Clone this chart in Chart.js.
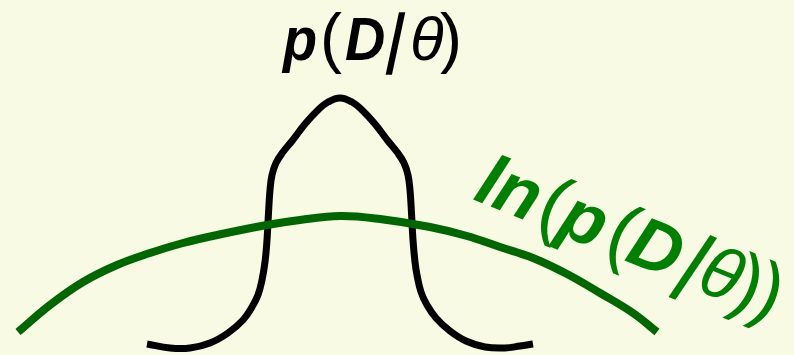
<!DOCTYPE html>
<html>
<head>
<meta charset="utf-8">
<script src="https://cdn.jsdelivr.net/npm/chart.js@4.4.0/dist/chart.umd.min.js"></script>
<style>
  html, body { margin: 0; padding: 0; background: #f8fae4; }
  #wrap { width: 794px; height: 355px; }
</style>
</head>
<body>
<div id="wrap"><canvas id="likelihood" width="794" height="355"></canvas></div>
<script>
// theta values and curve heights
var pTheta = [-1.93, -1.70, -1.50, -1.30, -1.12, -0.97, -0.88, -0.82, -0.78, -0.75, -0.73, -0.715, -0.70, -0.68, -0.64, -0.57, -0.48, -0.35, -0.22, -0.12, 0,
              0.12, 0.22, 0.35, 0.48, 0.57, 0.64, 0.68, 0.70, 0.715, 0.73, 0.75, 0.77, 0.81, 0.87, 0.96, 1.10, 1.26, 1.45, 1.65, 1.80, 1.93];
var pValues = [0.11, 0.07, 0.07, 0.12, 0.22, 0.35, 0.48, 0.60, 0.75, 0.93, 1.15, 1.42, 1.65, 1.80, 1.92, 2.03, 2.14, 2.31, 2.45, 2.53, 2.57,
               2.53, 2.45, 2.31, 2.14, 2.03, 1.92, 1.80, 1.65, 1.42, 1.15, 0.93, 0.80, 0.63, 0.50, 0.37, 0.24, 0.14, 0.08, 0.07, 0.09, 0.11];

var lnTheta = [-3.22, -2.90, -2.57, -2.23, -1.90, -1.57, -1.23, -0.73, -0.40, 0, 0.40, 0.90, 1.27, 1.60, 1.93, 2.27, 2.60, 2.93, 3.17];
var lnValues = [0.23, 0.50, 0.73, 0.90, 1.02, 1.12, 1.20, 1.30, 1.35, 1.39, 1.36, 1.28, 1.19, 1.08, 0.97, 0.81, 0.62, 0.42, 0.23];

var thetaRange = [-3.40, 4.54];
var valueRange = [0, 3.55];

var FONT = '"Liberation Sans", Arial, sans-serif';
var SLANT = Math.tan(12 * Math.PI / 180);

function toPoints(xs, ys) {
    return xs.map(function (x, i) { return { x: x, y: ys[i] }; });
}

// each glyph gets its own weight, offset along the baseline and size
function drawPieces(ctx, pieces, size) {
    pieces.forEach(function (pc) {
        ctx.save();
        ctx.translate(pc.dx, 0);
        if (pc.skew) ctx.transform(1, 0, -SLANT, 1, 0, 0);
        ctx.scale(pc.sx || 1, 1);
        ctx.font = pc.style + ' ' + Math.round(size * (pc.scale || 1)) + 'px ' + FONT;
        ctx.fillText(pc.text, 0, 0);
        ctx.restore();
    });
}

var formula = [
    { text: 'p', style: 'italic bold', dx: 0, sx: 0.9 },
    { text: '(', style: 'normal', dx: 37, scale: 1.07 },
    { text: 'D', style: 'italic bold', dx: 62, sx: 0.9 },
    { text: '|', style: 'bold', dx: 102, scale: 1.07, sx: 0.75, skew: true },
    { text: 'θ', style: 'italic', dx: 127 },
    { text: ')', style: 'normal', dx: 157, scale: 1.07 }
];
var lnFormula = [
    { text: 'l', style: 'italic bold', dx: 0 },
    { text: 'n', style: 'italic bold', dx: 19 },
    { text: '(', style: 'normal', dx: 66, scale: 1.07 },
    { text: 'p', style: 'italic bold', dx: 90 },
    { text: '(', style: 'normal', dx: 140, scale: 1.07 },
    { text: 'D', style: 'italic bold', dx: 163 },
    { text: '|', style: 'bold', dx: 218, scale: 1.07, sx: 0.75, skew: true },
    { text: 'θ', style: 'italic', dx: 240 },
    { text: ')', style: 'normal', dx: 276, scale: 1.07 },
    { text: ')', style: 'normal', dx: 298, scale: 1.07 }
];

var labelPlugin = {
    id: 'curveLabels',
    afterDatasetsDraw: function (chart) {
        var ctx = chart.ctx;
        var xs = chart.scales.x, ys = chart.scales.y;
        ctx.save();
        ctx.textBaseline = 'alphabetic';
        ctx.fillStyle = '#000000';
        ctx.translate(xs.getPixelForValue(-0.57), ys.getPixelForValue(2.95));
        drawPieces(ctx, formula, 62);
        ctx.restore();

        ctx.save();
        ctx.textBaseline = 'alphabetic';
        ctx.fillStyle = '#008000';
        ctx.translate(xs.getPixelForValue(1.32), ys.getPixelForValue(1.56));
        ctx.rotate(22 * Math.PI / 180);
        drawPieces(ctx, lnFormula, 72);
        ctx.restore();
    }
};

function build() {
    new Chart(document.getElementById('likelihood').getContext('2d'), {
        type: 'scatter',
        data: {
            datasets: [{
                label: 'ln(p(D|θ))',
                data: toPoints(lnTheta, lnValues),
                showLine: true,
                borderColor: '#006600',
                borderWidth: 8,
                borderCapStyle: 'butt',
                pointRadius: 0,
                tension: 0.4,
                clip: false
            }, {
                label: 'p(D|θ)',
                data: toPoints(pTheta, pValues),
                showLine: true,
                borderColor: '#000000',
                borderWidth: 7,
                borderCapStyle: 'butt',
                borderJoinStyle: 'round',
                pointRadius: 0,
                tension: 0.4,
                clip: false
            }]
        },
        options: {
            responsive: false,
            animation: false,
            devicePixelRatio: 1,
            layout: { padding: 0 },
            plugins: {
                legend: { display: false },
                tooltip: { enabled: false }
            },
            scales: {
                x: { type: 'linear', display: false, min: thetaRange[0], max: thetaRange[1] },
                y: { type: 'linear', display: false, min: valueRange[0], max: valueRange[1] }
            }
        },
        plugins: [labelPlugin]
    });
}

Promise.all([
    document.fonts.load('italic bold 60px ' + FONT, 'pDln'),
    document.fonts.load('italic 60px ' + FONT, 'θ'),
    document.fonts.load('bold 60px ' + FONT, '|'),
    document.fonts.load('60px ' + FONT, '()')
]).then(build, build);
</script>
</body>
</html>
